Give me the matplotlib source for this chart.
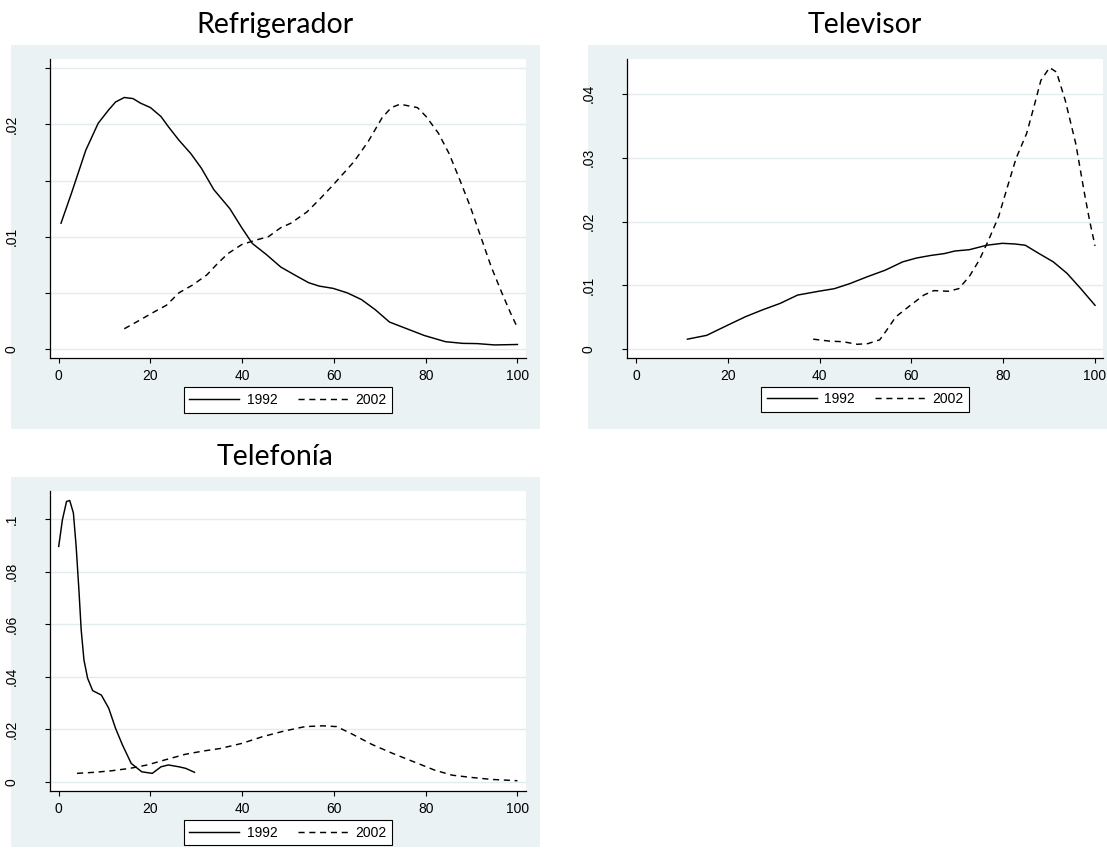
import matplotlib.pyplot as plt
from matplotlib.patches import Rectangle
from matplotlib.lines import Line2D

# ---- datos (densidades por percentil) ----
refri_1992_x = [0.5, 2.8, 5.9, 8.6, 10.9, 12.4, 14.3, 16.2, 17.8, 20, 22.3, 23.9, 26.2, 28.8,
                31.1, 33.8, 37.3, 39.9, 42.2, 45.3, 48.4, 51.4, 54.5, 56.8, 59.8, 62.9, 66,
                69, 72.1, 75.9, 79.7, 84.3, 88.1, 91.2, 95, 100]
refri_1992_y = [0.0112, 0.0139, 0.0177, 0.0201, 0.0213, 0.0220, 0.0224, 0.0223, 0.0219, 0.0215,
                0.0207, 0.0198, 0.0186, 0.0174, 0.0161, 0.0142, 0.0125, 0.0108, 0.0094, 0.0084,
                0.0073, 0.0066, 0.0059, 0.0056, 0.0054, 0.0050, 0.0044, 0.0035, 0.0024, 0.0018,
                0.0012, 0.00065, 0.0005, 0.00048, 0.00036, 0.0004]
refri_2002_x = [14.3, 17.8, 20.8, 23.5, 26.2, 29.2, 32.3, 34.6, 36.9, 39.9, 43, 45.7, 48.4, 50.6,
                54.1, 56.8, 59.8, 64.4, 67.5, 70.5, 72.5, 74.4, 78.2, 80.1, 82.8, 85.1, 87.4,
                89.7, 92, 94.3, 96.6, 98.5, 100]
refri_2002_y = [0.0018, 0.0026, 0.0033, 0.0039, 0.0050, 0.0057, 0.0066, 0.0076, 0.0085, 0.0093,
                0.0097, 0.0100, 0.0108, 0.0112, 0.0122, 0.0133, 0.0146, 0.0167, 0.0185, 0.0206,
                0.0215, 0.0218, 0.0215, 0.0207, 0.0192, 0.0174, 0.0151, 0.0127, 0.0100, 0.0073,
                0.0050, 0.0032, 0.0019]

tele_1992_x = [11.2, 15.4, 20, 23.8, 27.6, 31.4, 35.2, 39.8, 43.2, 46.6, 50.5, 54.3, 58.1, 61.1,
               64.2, 67.2, 69.5, 72.6, 76.4, 79.8, 82.5, 84.8, 87.8, 90.9, 93.9, 96.9, 100]
tele_1992_y = [0.0016, 0.0022, 0.0038, 0.0051, 0.0062, 0.0072, 0.0085, 0.0091, 0.0095, 0.0103,
               0.0114, 0.0124, 0.0137, 0.0143, 0.0147, 0.0150, 0.0154, 0.0156, 0.0163, 0.0166,
               0.0165, 0.0163, 0.0150, 0.0137, 0.0119, 0.0095, 0.0069]
tele_2002_x = [38.6, 42.1, 45.1, 48.2, 50.5, 53.1, 54.6, 56.6, 59.6, 62.7, 64.9, 68, 70.3, 72.6,
               74.8, 76.8, 79, 80.9, 82.8, 85.1, 86.7, 88.2, 90.1, 91.6, 93.5, 95.8, 97.7, 98.8, 100]
tele_2002_y = [0.0016, 0.0013, 0.0012, 0.0008, 0.0009, 0.0015, 0.0030, 0.0051, 0.0068, 0.0085,
               0.0092, 0.0091, 0.0095, 0.0114, 0.0140, 0.0171, 0.0208, 0.0254, 0.0299, 0.0338,
               0.0380, 0.0421, 0.0441, 0.0434, 0.0390, 0.0322, 0.0244, 0.0202, 0.0162]

telf_1992_x = [0, 0.8, 1.7, 2.4, 3.2, 3.8, 4.4, 4.9, 5.5, 6.3, 7.4, 9.3, 10.9, 12.4, 13.9, 15.8,
               18.1, 20.4, 22.3, 23.9, 26.2, 27.7, 29.6]
telf_1992_y = [0.0896, 0.0997, 0.1067, 0.1071, 0.1023, 0.0896, 0.0731, 0.0578, 0.0464, 0.0394,
               0.0347, 0.0330, 0.0280, 0.0203, 0.0140, 0.0070, 0.0038, 0.0032, 0.0057, 0.0064,
               0.0057, 0.0051, 0.0036]
telf_2002_x = [4, 7.8, 11.6, 15.5, 19.3, 23.1, 27.7, 31.5, 35.3, 39.9, 44.5, 49.1, 53.7, 57.5,
               60.6, 63.7, 68.3, 72.8, 77.4, 82, 85.8, 89.7, 94.3, 100]
telf_2002_y = [0.0032, 0.0036, 0.0042, 0.0051, 0.0064, 0.0083, 0.0105, 0.0117, 0.0127, 0.0146,
               0.0172, 0.0193, 0.0210, 0.0213, 0.0210, 0.0184, 0.0142, 0.0108, 0.0076, 0.0044,
               0.0025, 0.0017, 0.0009, 0.0004]

x_ticks = [0, 20, 40, 60, 80, 100]
refri_yticks = [0, 0.005, 0.01, 0.015, 0.02, 0.025]
refri_ylabels = ['0', '', '.01', '', '.02', '']
tele_yticks = [0, 0.01, 0.02, 0.03, 0.04]
tele_ylabels = ['0', '.01', '.02', '.03', '.04']
telf_yticks = [0, 0.02, 0.04, 0.06, 0.08, 0.1]
telf_ylabels = ['0', '.02', '.04', '.06', '.08', '.1']
years = ['1992', '2002']

W, H = 1107, 856
BG = '#EAF2F3'
GRID = '#E2EBED'
DASH = (0, (4.2, 3.2))


def px_box(x0, y0, x1, y1):
    return [x0 / W, 1 - y1 / H, (x1 - x0) / W, (y1 - y0) / H]


def panel(fig, bg, box, title, tx, ty, xs, ys, yticks, ylabels, ylim):
    l, b, w, h = px_box(*bg)
    fig.add_artist(Rectangle((l, b), w, h, transform=fig.transFigure,
                             facecolor=BG, edgecolor='none', zorder=0))
    fig.text(tx / W, 1 - ty / H, title, ha='center', va='baseline',
             fontsize=20.5, family='Lato')

    ax = fig.add_axes(px_box(*box))
    ax.set_facecolor('white')
    ax.plot(xs[0], ys[0], color='black', lw=1.05)
    ax.plot(xs[1], ys[1], color='black', lw=1.05, linestyle=DASH)

    ax.set_xlim(-1.9, 101.8)
    ax.set_ylim(*ylim)
    ax.set_xticks(x_ticks)
    ax.set_xticklabels([str(t) for t in x_ticks])
    ax.set_yticks(yticks)
    ax.set_yticklabels(ylabels)
    ax.grid(axis='y', color=GRID, lw=1.0)
    ax.set_axisbelow(True)

    for s in ['top', 'right']:
        ax.spines[s].set_visible(False)
    for s in ['left', 'bottom']:
        ax.spines[s].set_linewidth(0.9)
    ax.tick_params(axis='both', direction='out', length=3.6, width=0.8,
                   labelsize=10, labelfontfamily='Liberation Sans')
    ax.tick_params(axis='x', pad=4.3)
    ax.tick_params(axis='y', pad=19, labelrotation=90)
    for lab in ax.get_yticklabels():
        lab.set_va('center')

    handles = [Line2D([], [], color='black', lw=1.05),
               Line2D([], [], color='black', lw=1.05, linestyle=DASH)]
    leg = ax.legend(handles, years, loc='center', bbox_to_anchor=(0.5, -0.1395), ncol=2,
                    frameon=True, fancybox=False, edgecolor='black', framealpha=1,
                    borderpad=0.4, handlelength=3.6, handletextpad=0.55, columnspacing=1.44,
                    prop={'family': 'Liberation Sans', 'size': 10})
    leg.get_frame().set_linewidth(0.8)
    return ax


fig = plt.figure(figsize=(W / 100, H / 100), dpi=100, facecolor='white')

panel(fig, (11, 45, 540, 429), (50, 59.3, 525.7, 358.3), 'Refrigerador', 275, 33.3,
      [refri_1992_x, refri_2002_x], [refri_1992_y, refri_2002_y],
      refri_yticks, refri_ylabels, (-0.00083, 0.0258))
panel(fig, (588, 45, 1107, 429), (627.3, 59.3, 1103.3, 357.7), 'Televisor', 865, 33.3,
      [tele_1992_x, tele_2002_x], [tele_1992_y, tele_2002_y],
      tele_yticks, tele_ylabels, (-0.0013, 0.0454))
panel(fig, (11, 477, 540, 847), (50, 491, 525.7, 790.7), 'Telefonía', 275, 465,
      [telf_1992_x, telf_2002_x], [telf_1992_y, telf_2002_y],
      telf_yticks, telf_ylabels, (-0.0034, 0.1107))

fig.savefig('out.png', dpi=100, facecolor='white')
